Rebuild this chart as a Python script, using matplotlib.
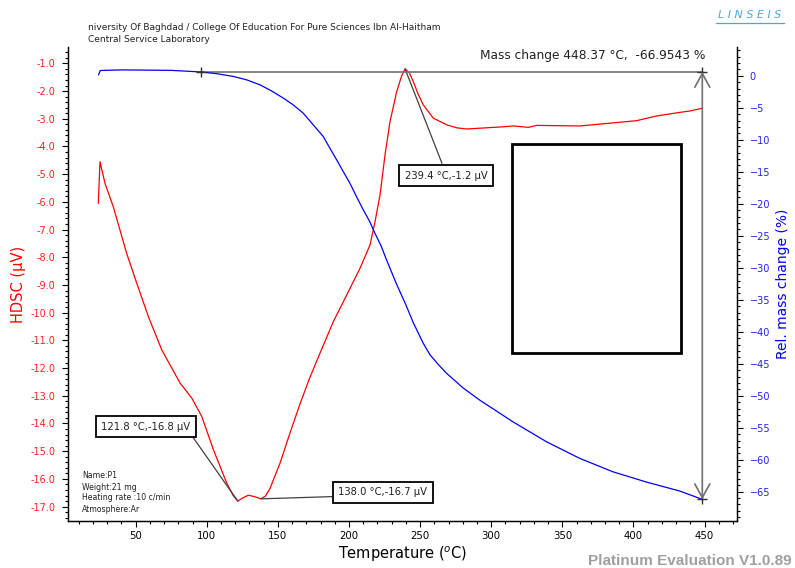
import matplotlib
matplotlib.use("Agg")
import matplotlib.pyplot as plt
import matplotlib.ticker as ticker
from matplotlib.patches import Rectangle
from matplotlib.lines import Line2D

# HDSC curve (red), temperature in degC / signal in uV
dsc_temp = [23.7, 24.9, 28.4, 34.2, 43.6, 50.7, 58.9, 68.3, 81.2, 89.4, 96.4,
            104.6, 114.0, 118.5, 121.8, 125.5, 129.2, 133.5, 138.0, 141.2,
            144.4, 151.5, 158.5, 165.5, 172.0, 179.1, 189.0, 198.4, 207.8,
            214.8, 218.3, 221.8, 225.3, 228.8, 233.5, 237.0, 239.4, 242.5,
            245.2, 248.5, 252.2, 259.3, 268.7, 276.0, 282.8, 292.1, 308.5,
            315.5, 326.1, 331.9, 362.3, 383.4, 402.2, 416.2, 432.6, 439.7, 448.4]
dsc_uv = [-6.05, -4.55, -5.33, -6.17, -7.85, -8.93, -10.14, -11.34, -12.54,
          -13.08, -13.74, -14.94, -16.15, -16.60, -16.80, -16.68, -16.59,
          -16.64, -16.72, -16.62, -16.35, -15.43, -14.34, -13.30, -12.40,
          -11.52, -10.32, -9.36, -8.39, -7.55, -6.71, -5.75, -4.31, -3.11,
          -2.02, -1.45, -1.20, -1.35, -1.66, -2.10, -2.50, -2.98, -3.22,
          -3.33, -3.37, -3.34, -3.29, -3.26, -3.31, -3.24, -3.26, -3.16,
          -3.07, -2.90, -2.77, -2.72, -2.62]

# TG curve (blue), relative mass change in %
tg_temp = [23.9, 25.1, 40.0, 75.0, 95.8, 108.0, 118.6, 128.0, 137.4, 145.4,
           153.8, 160.7, 167.8, 174.8, 181.9, 186.5, 191.3, 195.9, 200.6,
           205.3, 210.0, 214.6, 218.2, 222.8, 226.4, 233.5, 240.0, 245.2,
           252.2, 256.9, 262.7, 268.6, 280.3, 292.0, 315.4, 338.9, 362.3,
           385.7, 409.2, 432.6, 448.4]
tg_mass = [0.16, 0.83, 0.92, 0.85, 0.60, 0.30, -0.10, -0.63, -1.41, -2.35,
           -3.49, -4.53, -5.84, -7.66, -9.49, -11.30, -13.13, -14.96, -16.78,
           -18.90, -20.95, -22.80, -24.60, -26.70, -28.80, -32.60, -35.80,
           -38.60, -41.80, -43.60, -45.10, -46.50, -48.80, -50.70, -54.10,
           -57.20, -59.80, -61.90, -63.50, -64.90, -66.20]

# mass change measurement: start / end
step_temp = [95.8, 448.4]
step_mass = [0.63, -66.2]

# peak labels: (peak T, peak uV, text)
peak_labels = [(239.4, -1.2, "239.4 \u00b0C,-1.2 \u00b5V"),
               (121.8, -16.8, "121.8 \u00b0C,-16.8 \u00b5V"),
               (138.0, -16.72, "138.0 \u00b0C,-16.7 \u00b5V")]
# box centre and leader end for each label (in DSC axis units)
label_box = [(268.1, -5.06), (57.2, -14.12), (223.8, -16.48)]
leader_end = [(265.3, -4.60), (90.3, -14.50), (188.1, -16.64)]

info_lines = ["Name:P1", "Weight:21 mg", "Heating rate :10 c/min", "Atmosphere:Ar"]

plt.rcParams["font.family"] = ["DejaVu Sans"]

fig = plt.figure(figsize=(7.95, 5.68), dpi=100)
ax = fig.add_axes([68 / 795, 47 / 568, (737 - 68) / 795, (521 - 47) / 568])
ax2 = ax.twinx()

ax.plot(dsc_temp, dsc_uv, color="#ff0000", lw=0.9)
ax2.plot(tg_temp, tg_mass, color="#0000ff", lw=0.9)

ax.set_xlim(2.4, 472.8)
ax.set_ylim(-17.52, -0.41)
ax2.set_ylim(-69.58, 4.5)

# axes style
for a in (ax, ax2):
    a.spines["top"].set_visible(False)
    for s in a.spines.values():
        s.set_linewidth(0.9)
ax.xaxis.set_major_locator(ticker.MultipleLocator(50))
ax.xaxis.set_minor_locator(ticker.MultipleLocator(10))
ax.yaxis.set_major_locator(ticker.MultipleLocator(1))
ax.yaxis.set_minor_locator(ticker.MultipleLocator(0.2))
ax.yaxis.set_major_formatter(ticker.FormatStrFormatter("%.1f"))
ax2.yaxis.set_major_locator(ticker.MultipleLocator(5))
ax2.yaxis.set_minor_locator(ticker.MultipleLocator(1))

ax.tick_params(axis="x", which="major", length=4, width=0.8, labelsize=7.3, pad=3)
ax.tick_params(axis="x", which="minor", length=2.5, width=0.8)
ax.tick_params(axis="y", which="major", length=4, width=0.8, labelsize=7,
               labelcolor="#ff2020", pad=5)
ax.tick_params(axis="y", which="minor", length=2.5, width=0.8)
ax2.tick_params(axis="y", which="major", length=4, width=0.8, labelsize=7,
                labelcolor="#2020ff", pad=5)
ax2.tick_params(axis="y", which="minor", length=2.5, width=0.8)

ax.set_xlabel("Temperature ($^{o}$C)", fontsize=10.5, labelpad=3)
ax.set_ylabel("HDSC (\u00b5V)", fontsize=10.5, color="#ff0000", labelpad=3)
ax2.set_ylabel("Rel. mass change (%)", fontsize=10, color="#0000ff", labelpad=4)

# mass change measurement lines
ax2.plot([step_temp[0], step_temp[1]], [step_mass[0], step_mass[0]],
         color="#707070", lw=1.2, zorder=1)
ax2.annotate("", xy=(step_temp[1], step_mass[1]), xytext=(step_temp[1], step_mass[0]),
             arrowprops=dict(arrowstyle="<->,head_length=0.55,head_width=0.3",
                             color="#707070", lw=1.2, shrinkA=0, shrinkB=0,
                             mutation_scale=18))
ax2.plot([step_temp[0], step_temp[1], step_temp[1]],
         [step_mass[0], step_mass[0], step_mass[1]],
         "+", color="#303030", ms=7, mew=1)
ax2.text(step_temp[1] + 2, 3.2, "Mass change 448.37 \u00b0C,  -66.9543 %",
         ha="right", va="center", fontsize=8.7, color="#202020")

# peak annotations
for (px, py, txt), (bx, by), (lx, ly) in zip(peak_labels, label_box, leader_end):
    ax.plot([px, lx], [py, ly], color="#404040", lw=0.9, zorder=3)
    ax.text(bx, by, txt, ha="center", va="center", fontsize=7.2, color="#202020",
            zorder=4, bbox=dict(boxstyle="square,pad=0.55", fc="white",
                                ec="black", lw=1.3))

# empty frame in the plot
fig.add_artist(Rectangle((512 / 795, 1 - 353 / 568), 169 / 795, 209 / 568,
                         transform=fig.transFigure, fill=False, ec="black", lw=2))

# sample info
for i, line in enumerate(info_lines):
    fig.text(82 / 795, 1 - (476 + i * 11) / 568, line, fontsize=5.6,
             va="center", ha="left", color="#202020")

# header
fig.text(88 / 795, 1 - 27 / 568,
         "niversity Of Baghdad / College Of Education For Pure Sciences Ibn Al-Haitham",
         fontsize=6.5, va="center", ha="left", color="#202020")
fig.text(88 / 795, 1 - 40 / 568, "Central Service Laboratory",
         fontsize=6.5, va="center", ha="left", color="#202020")

# logo and footer
fig.text(750 / 795, 1 - 15 / 568, "L I N S E I S", fontsize=8, style="italic",
         ha="center", va="center", color="#4aa8d8")
fig.add_artist(Line2D([716 / 795, 784 / 795], [1 - 23 / 568, 1 - 23 / 568],
                      transform=fig.transFigure, color="#4aa8d8", lw=0.9))
fig.text(792 / 795, 1 - 561 / 568, "Platinum Evaluation V1.0.89",
         fontsize=11, fontweight="bold", family="Liberation Sans",
         ha="right", va="center", color="#a0a0a0")

fig.savefig("out.png", dpi=100)
